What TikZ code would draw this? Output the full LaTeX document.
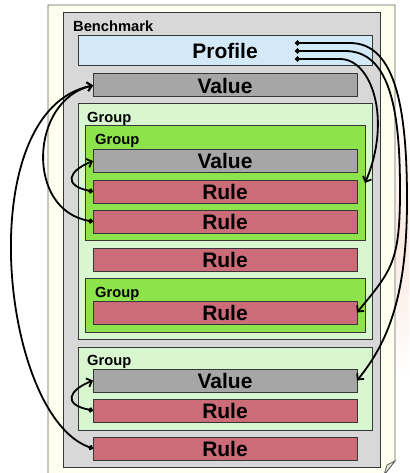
\documentclass[tikz,border=0pt]{standalone}
\usepackage{fontspec}
\setmainfont{Liberation Sans}
\usetikzlibrary{arrows.meta,calc}

\definecolor{paper}{RGB}{255,255,240}
\definecolor{paperfold}{RGB}{236,236,214}
\definecolor{haze}{RGB}{251,234,224}
\definecolor{edge}{RGB}{55,55,55}
\definecolor{benchgray}{RGB}{216,216,216}
\definecolor{profileblue}{RGB}{212,233,248}
\definecolor{valuegray}{RGB}{166,166,166}
\definecolor{rulered}{RGB}{204,108,121}
\definecolor{groupouter}{RGB}{216,247,208}
\definecolor{groupinner}{RGB}{141,227,75}

\begin{document}
\begin{tikzpicture}[x=1pt,y=-1pt,
  box/.style={draw=edge, line width=1pt, inner sep=0pt, outer sep=0pt},
  bar/.style={box, minimum width=264pt, minimum height=23pt,
    font=\fontsize{21}{21}\selectfont\bfseries},
  valuebox/.style={bar, fill=valuegray},
  rulebox/.style={bar, fill=rulered},
  tag/.style={anchor=base west, inner sep=0pt,
    font=\fontsize{14.7}{15}\selectfont\bfseries},
  dotlink/.style={line width=1.8pt,
    {Circle[length=5pt]}-{Straight Barb[length=4.5pt,width=9pt]}}]

\useasboundingbox (0,0) rectangle (409,473);

% soft glow beside the sheet
\shade[top color=white, bottom color=white, middle color=haze]
  (396,110) rectangle (409,380);

% the sheet with its folded corner
\draw[edge!80, line width=0.8pt, fill=paper]
  (48,5) -- (395,5) -- (395,461) -- (384,475) -- (48,475) -- cycle;
\draw[edge!80, line width=0.8pt, fill=paperfold]
  (395,461) -- (387,465) -- (384,475) -- cycle;

% containers
\node[box, fill=benchgray, minimum width=317pt, minimum height=454pt]
  (bench) at (221.5,240) {};
\node[tag] (benchlbl) at (73,32) {Benchmark};

\node[box, fill=profileblue, minimum width=294pt, minimum height=30pt,
  font=\fontsize{21}{21}\selectfont\bfseries] (profile) at (225,51) {Profile};

\node[valuebox] (v1) at (225,85.5) {Value};

\node[box, fill=groupouter, minimum width=294pt, minimum height=235pt]
  (og1) at (225,221.5) {};
\node[tag] (og1lbl) at (87,123) {Group};

\node[box, fill=groupinner, minimum width=280pt, minimum height=114pt]
  (ig1) at (225,183) {};
\node[tag] (ig1lbl) at (95,145) {Group};

\node[valuebox] (v2) at (225,161) {Value};
\node[rulebox] (r1) at (225,191.5) {Rule};
\node[rulebox] (r2) at (225,221.5) {Rule};
\node[rulebox] (r3) at (225,259.5) {Rule};

\node[box, fill=groupinner, minimum width=280pt, minimum height=54pt]
  (ig2) at (225,305) {};
\node[tag] (ig2lbl) at (95,297) {Group};
\node[rulebox] (r4) at (225,312.5) {Rule};

\node[box, fill=groupouter, minimum width=294pt, minimum height=83pt]
  (og2) at (225,388.5) {};
\node[tag] (og2lbl) at (87,365) {Group};
\node[valuebox] (v3) at (225,380.5) {Value};
\node[rulebox] (r5) at (225,410.5) {Rule};

\node[rulebox] (r6) at (225,448.5) {Rule};

% references leaving the profile
\coordinate (p1) at (295,43);
\coordinate (p2) at (295,51);
\coordinate (p3) at (295,59);

\draw[dotlink] (p3) -- (340,59)
  .. controls (372,59) and (392,120) .. (ig1.east);
\draw[dotlink] (p2) -- (345,51)
  .. controls (390,51) and (400,110) .. (400,190)
  .. controls (400,262) and (392,270) .. (r4.east);
\draw[dotlink] (p1) -- (350,43)
  .. controls (396,43) and (407,110) .. (407,200)
  .. controls (407,292) and (390,340) .. (v3.east);

% rules referring back to values
\draw[dotlink] (r1.west) .. controls +(-30,-6) and +(-25,10) .. (v2.west);
\draw[dotlink] (r5.west) .. controls +(-30,-6) and +(-25,10) .. (v3.west);
\draw[dotlink] (r2.west) .. controls +(-68,-11.5) and +(-63,14.5) .. (v1.west);
\draw[dotlink] (r6.west) .. controls +(-93,-33.5) and +(-123,24.5) .. (v1.west);

\end{tikzpicture}
\end{document}
